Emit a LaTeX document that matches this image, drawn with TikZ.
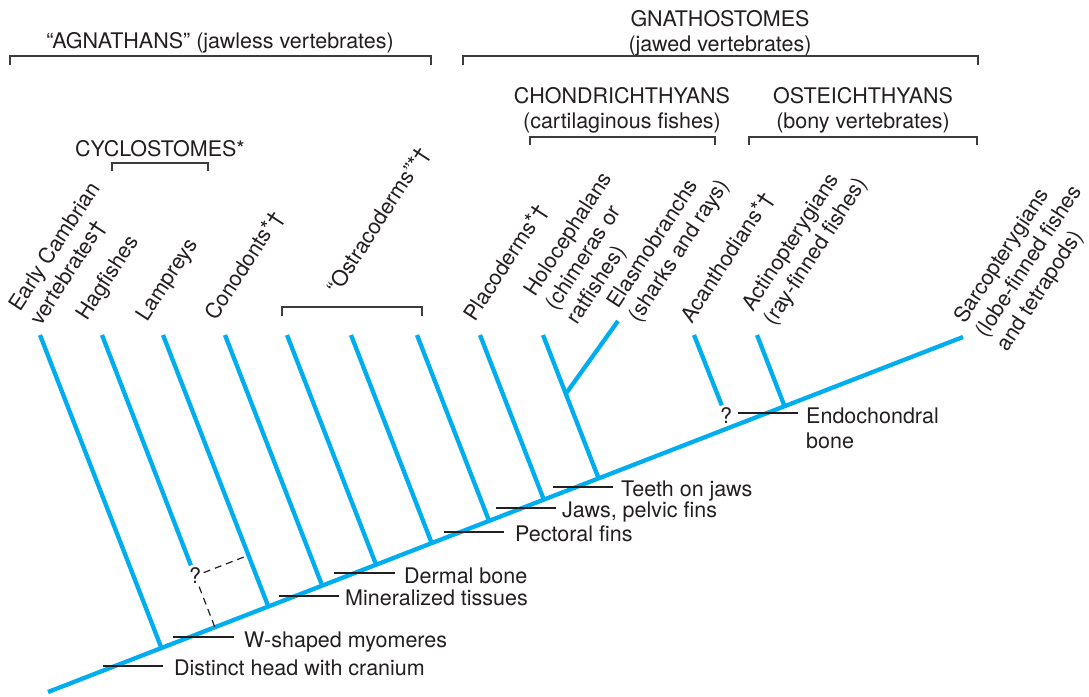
\documentclass[tikz,border=0pt]{standalone}
\usepackage{fontspec}
\setmainfont{TeX Gyre Heros}
\usetikzlibrary{calc}
\definecolor{vcyan}{RGB}{0,174,239}
\definecolor{ink}{RGB}{35,31,32}
\definecolor{brkgray}{RGB}{60,60,60}
\tikzset{
  br/.style={vcyan, line width=4.3pt},
  trait/.style={ink, line width=2.7pt},
  brk/.style={brkgray, line width=1.3pt},
  dsh/.style={ink, line width=1.2pt, dash pattern=on 7pt off 5pt},
  taxon/.style={rotate=57, anchor=base west, inner sep=0pt},
  trlab/.style={anchor=base west, inner sep=0pt},
  head/.style={anchor=base, inner sep=0pt},
  qmark/.style={inner sep=2.5pt}
}
\begin{document}
\begin{tikzpicture}[x=1pt,y=-1pt,font=\fontsize{21.5}{25.5}\selectfont,text=ink]
\useasboundingbox (0,0) rectangle (1089,696);
% trunk
\coordinate (root) at (48,692);
\coordinate (tid12) at (963,337);
\draw[br] (root) -- (tid12);
% branch tips
\coordinate (tid0) at (40,335);
\coordinate (tid1) at (102,335);
\coordinate (tid2) at (163,335);
\coordinate (tid3) at (225,335);
\coordinate (tid4) at (287,335);
\coordinate (tid5) at (351,335);
\coordinate (tid6) at (417,335);
\coordinate (tid7) at (480,335);
\coordinate (tid8) at (543,335);
\coordinate (tid9) at (618,321);
\coordinate (tid10) at (694,335);
\coordinate (tid11) at (757,335);
% feet on the trunk
\coordinate (nd0) at ($(root)!(tid0)!(tid12)$);
\coordinate (nd2) at ($(root)!(tid2)!(tid12)$);
\coordinate (nd3) at ($(root)!(tid3)!(tid12)$);
\coordinate (nd4) at ($(root)!(tid4)!(tid12)$);
\coordinate (nd5) at ($(root)!(tid5)!(tid12)$);
\coordinate (nd6) at ($(root)!(tid6)!(tid12)$);
\coordinate (nd7) at ($(root)!(tid7)!(tid12)$);
\coordinate (nd8) at ($(root)!(tid8)!(tid12)$);
\coordinate (nd11) at ($(root)!(tid11)!(tid12)$);
\coordinate (j8) at ($(tid8)!0.41!(nd8)$);
\node[qmark] (q0) at (195,576) {?};
\node[qmark] (q1) at (726,416) {?};
\draw[br] (tid0) -- (nd0);
\draw[br] (tid1) -- (q0);
\draw[br] (tid2) -- (nd2);
\draw[br] (tid3) -- (nd3);
\draw[br] (tid4) -- (nd4);
\draw[br] (tid5) -- (nd5);
\draw[br] (tid6) -- (nd6);
\draw[br] (tid7) -- (nd7);
\draw[br] (tid8) -- (nd8);
\draw[br] (j8) -- (tid9);
\draw[br] (tid10) -- (q1);
\draw[br] (tid11) -- (nd11);
\draw[dsh] (q0) -- ($(tid2)!(q0)!(nd2)$);
\draw[dsh] (q0) -- ($(root)!(q0)!(tid12)$);
% characters along the trunk
\draw[trait] (103,666) -- (163,666);
\draw[trait] (173,637) -- (234,637);
\draw[trait] (279,596) -- (339,596);
\draw[trait] (334,573) -- (395,573);
\draw[trait] (444,532) -- (504,532);
\draw[trait] (496,508) -- (556,508);
\draw[trait] (553,487) -- (613,487);
\draw[trait] (738,413) -- (798,413);
\node[trlab] (c0) at (174,675) {Distinct head with cranium};
\node[trlab] (c1) at (244,647) {W-shaped myomeres};
\node[trlab] (c2) at (345,605) {Mineralized tissues};
\node[trlab] (c3) at (404,583) {Dermal bone};
\node[trlab] (c4) at (515,541) {Pectoral fins};
\node[trlab] (c5) at (562,517) {Jaws, pelvic fins};
\node[trlab] (c6) at (621,496) {Teeth on jaws};
\node[trlab] (c7) at (806,423) {\begin{tabular}[t]{@{}l@{}}Endochondral\\bone\end{tabular}};
% taxa
\node[taxon] (lab0) at (20,313) {\begin{tabular}[t]{@{}l@{}}Early Cambrian\\vertebrates†\end{tabular}};
\node[taxon] (lab1) at (87,322) {Hagfishes};
\node[taxon] (lab2) at (147,323) {Lampreys};
\node[taxon] (lab3) at (216,322) {Conodonts*†};
\node[taxon] (lab4) at (338,296) {“Ostracoderms”*†};
\node[taxon] (lab5) at (475,323) {Placoderms*†};
\node[taxon] (lab6) at (535,298) {\begin{tabular}[t]{@{}l@{}}Holocephalans\\(chimeras or\\ratfishes)\end{tabular}};
\node[taxon] (lab7) at (618,310) {\begin{tabular}[t]{@{}l@{}}Elasmobranchs\\(sharks and rays)\end{tabular}};
\node[taxon] (lab8) at (692,325) {Acanthodians*†};
\node[taxon] (lab9) at (753,313) {\begin{tabular}[t]{@{}l@{}}Actinopterygians\\(ray-finned fishes)\end{tabular}};
\node[taxon] (lab10) at (965,325) {\begin{tabular}[t]{@{}l@{}}Sarcopterygians\\(lobe-finned fishes\\and tetrapods)\end{tabular}};
% groups
\node[head] (h0) at (220,48) {“AGNATHANS” (jawless vertebrates)};
\node[head] (h1) at (720,26) {\begin{tabular}[t]{@{}c@{}}GNATHOSTOMES\\(jawed vertebrates)\end{tabular}};
\node[head] (h2) at (622,103) {\begin{tabular}[t]{@{}c@{}}CHONDRICHTHYANS\\(cartilaginous fishes)\end{tabular}};
\node[head] (h3) at (863,103) {\begin{tabular}[t]{@{}c@{}}OSTEICHTHYANS\\(bony vertebrates)\end{tabular}};
\node[head] (h4) at (160,156) {CYCLOSTOMES*};
\draw[brk] (10,65) |- (431,56) -- (431,65);
\draw[brk] (463,65) |- (978,56) -- (978,65);
\draw[brk] (530,145) |- (715,137) -- (715,145);
\draw[brk] (749,145) |- (977,137) -- (977,145);
\draw[brk] (112,171) |- (208,163) -- (208,171);
\draw[brk] (282,316) |- (422,307) -- (422,316);
\end{tikzpicture}
\end{document}
